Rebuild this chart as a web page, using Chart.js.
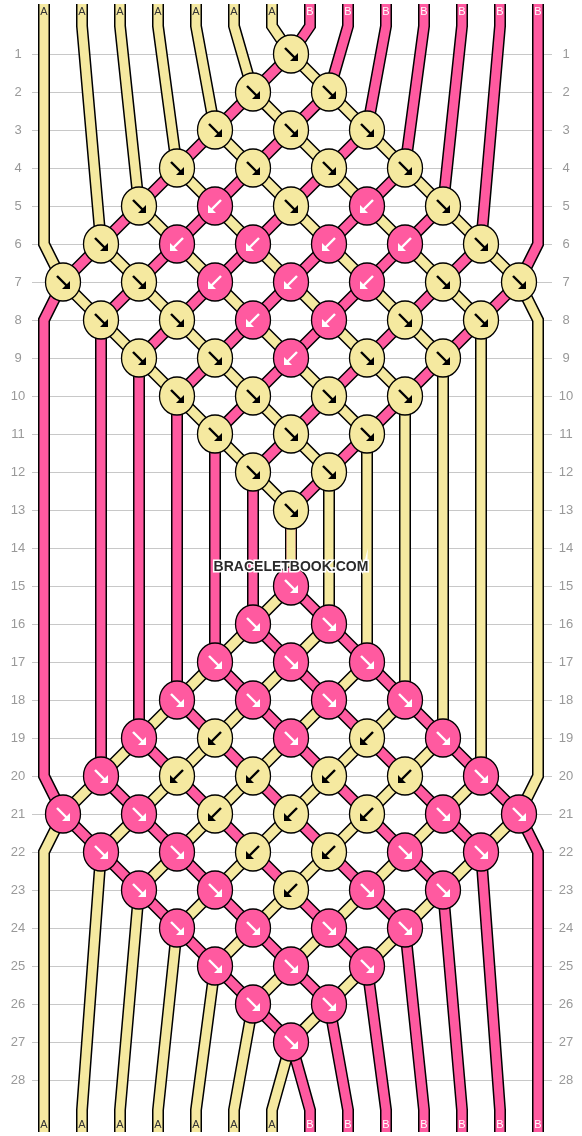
<!DOCTYPE html>
<html>
<head>
<meta charset="utf-8">
<script src="https://cdn.jsdelivr.net/npm/chart.js@4"></script>
<style>
  html, body { margin: 0; padding: 0; background: #fff; }
  #wrap { width: 582px; height: 1136px; }
</style>
</head>
<body>
<div id="wrap"><canvas id="chart"></canvas></div>
<script>
// Strings (left to right) and their colour letter
const strings = ["A", "A", "A", "A", "A", "A", "A", "B", "B", "B", "B", "B", "B", "B"];
const colors = { A: "#f5e9a0", B: "#ff5aa0" };

// Knot pattern per row: f = forward (↘), b = backward (↙), . = no knot
// Odd rows have 7 slots (strings 0-1, 2-3 ...), even rows 6 slots (1-2, 3-4 ...)
const rows = [
  "...f...", "..ff..", "..fff..", ".ffff.", ".fbfbf.", "fbbbbf", "ffbbbff",
  "ffbbff", ".ffbff.", ".ffff.", "..fff..", "..ff..", "...f...", "......",
  "...f...", "..ff..", "..fff..", ".ffff.", ".fbfbf.", "fbbbbf", "ffbbbff",
  "ffbbff", ".ffbff.", ".ffff.", "..fff..", "..ff..", "...f...", "......",
];
const rowLabels = rows.map((_, i) => String(i + 1));

const stringX = (p) => 44 + 38 * p;
const rowY = (r) => 54 + 38 * (r - 1);
const TOP = [4, 26], BOTTOM = [1110, 1132];

// Follow the threads through the knots
let pos = strings.map((_, i) => i);
const paths = strings.map((_, i) => [{ x: stringX(i), y: TOP[0] }, { x: stringX(i), y: TOP[1] }]);
const knots = [];
rows.forEach((pat, ri) => {
  const r = ri + 1, y = rowY(r), odd = r % 2 === 1;
  const used = {};
  [...pat].forEach((c, s) => {
    if (c === ".") return;
    const a = odd ? 2 * s : 2 * s + 1;
    const x = (odd ? 63 : 101) + 76 * s;
    const tl = pos[a], tr = pos[a + 1];
    knots.push({ x, y, dir: c, color: strings[c === "f" ? tl : tr] });
    paths[tl].push({ x, y });
    paths[tr].push({ x, y });
    pos[a] = tr; pos[a + 1] = tl;
    used[a] = used[a + 1] = true;
  });
  if (!odd) {
    [0, 13].forEach((p) => { if (!used[p]) paths[pos[p]].push({ x: stringX(p), y }); });
  }
});
pos.forEach((t, p) => {
  paths[t].push({ x: stringX(p), y: BOTTOM[0] }, { x: stringX(p), y: BOTTOM[1] });
});
const endLabels = pos.map((t) => strings[t]);

const datasets = [];
paths.forEach((pts, t) => {
  datasets.push({ data: pts, showLine: true, borderColor: "#000", borderWidth: 12, pointRadius: 0, order: 2 });
  datasets.push({ data: pts, showLine: true, borderColor: colors[strings[t]], borderWidth: 9, pointRadius: 0, order: 1 });
});

const overlay = {
  id: "overlay",
  beforeDatasetsDraw(chart) {
    const { ctx, scales: { x, y } } = chart;
    ctx.save();
    ctx.strokeStyle = "#c8c8c8";
    ctx.lineWidth = 1;
    ctx.fillStyle = "#999";
    ctx.font = "13px 'Liberation Sans', sans-serif";
    ctx.textAlign = "center";
    ctx.textBaseline = "middle";
    rowLabels.forEach((lab, i) => {
      const py = y.getPixelForValue(rowY(i + 1));
      ctx.beginPath();
      ctx.moveTo(x.getPixelForValue(32), py + 0.5);
      ctx.lineTo(x.getPixelForValue(552), py + 0.5);
      ctx.stroke();
      ctx.fillText(lab, x.getPixelForValue(18), py);
      ctx.fillText(lab, x.getPixelForValue(566), py);
    });
    ctx.restore();
  },
  afterDatasetsDraw(chart) {
    const { ctx, scales: { x, y } } = chart;
    ctx.save();
    // string end labels
    ctx.font = "11px 'Liberation Sans', sans-serif";
    ctx.textAlign = "center";
    ctx.textBaseline = "middle";
    strings.forEach((s, p) => {
      ctx.fillStyle = s === "B" ? "#fff" : "#333";
      ctx.fillText(s, x.getPixelForValue(stringX(p)), y.getPixelForValue(12));
    });
    endLabels.forEach((s, p) => {
      ctx.fillStyle = s === "B" ? "#fff" : "#333";
      ctx.fillText(s, x.getPixelForValue(stringX(p)), y.getPixelForValue(1125));
    });
    // knots
    knots.forEach((k) => {
      const px = x.getPixelForValue(k.x), py = y.getPixelForValue(k.y);
      ctx.beginPath();
      ctx.ellipse(px, py, 17.5, 19, 0, 0, Math.PI * 2);
      ctx.fillStyle = colors[k.color];
      ctx.fill();
      ctx.lineWidth = 1.3;
      ctx.strokeStyle = "#000";
      ctx.stroke();
      const ink = k.color === "B" ? "#fff" : "#000";
      const sx = k.dir === "f" ? 1 : -1;
      ctx.strokeStyle = ink;
      ctx.fillStyle = ink;
      ctx.lineWidth = 2.4;
      ctx.beginPath();
      ctx.moveTo(px - 6 * sx, py - 6);
      ctx.lineTo(px + 4 * sx, py + 4);
      ctx.stroke();
      ctx.beginPath();
      ctx.moveTo(px + 7 * sx, py + 7);
      ctx.lineTo(px + 7 * sx, py - 1);
      ctx.lineTo(px - 1 * sx, py + 7);
      ctx.closePath();
      ctx.fill();
    });
    // watermark
    ctx.font = "bold 14px 'Liberation Sans', sans-serif";
    ctx.lineWidth = 3;
    ctx.strokeStyle = "#fff";
    ctx.fillStyle = "#2a2a2a";
    const wx = x.getPixelForValue(291), wy = y.getPixelForValue(567);
    ctx.strokeText("BRACELETBOOK.COM", wx, wy);
    ctx.fillText("BRACELETBOOK.COM", wx, wy);
    ctx.restore();
  },
};

new Chart(document.querySelector("#chart"), {
  type: "scatter",
  data: { datasets },
  options: {
    responsive: true,
    maintainAspectRatio: false,
    animation: false,
    layout: { padding: 0 },
    plugins: { legend: { display: false }, tooltip: { enabled: false } },
    elements: { line: { tension: 0, borderCapStyle: "butt", borderJoinStyle: "miter" } },
    scales: {
      x: { type: "linear", min: 0, max: 582, display: false },
      y: { type: "linear", min: 0, max: 1136, reverse: true, display: false },
    },
  },
  plugins: [overlay],
});
</script>
</body>
</html>
